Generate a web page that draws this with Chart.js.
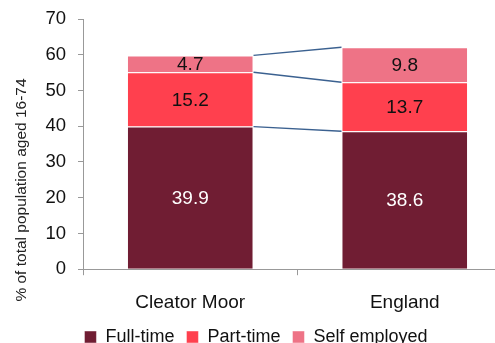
<!DOCTYPE html>
<html>
<head>
<meta charset="utf-8">
<script src="https://cdn.jsdelivr.net/npm/chart.js@4/dist/chart.umd.min.js"></script>
<style>
  html, body { margin: 0; padding: 0; background: #fff; overflow: hidden; }
  #wrap { width: 514px; height: 343px; }
</style>
</head>
<body>
<div id="wrap"><canvas id="chart" width="514" height="343"></canvas></div>
<script>
// 数据
const areas = ['Cleator Moor', 'England'];
const fullTime = [39.9, 38.6];
const partTime = [15.2, 13.7];
const selfEmployed = [4.7, 9.8];
const yTicks = [0, 10, 20, 30, 40, 50, 60, 70];

const FONT = '"Liberation Sans", Arial, sans-serif';

// 柱内数值标签
const valueLabels = {
    id: 'valueLabels',
    afterDatasetsDraw(chart) {
        const ctx = chart.ctx;
        ctx.save();
        ctx.font = '19px ' + FONT;
        ctx.textAlign = 'center';
        ctx.textBaseline = 'middle';
        chart.data.datasets.forEach((ds, i) => {
            const meta = chart.getDatasetMeta(i);
            meta.data.forEach((bar, j) => {
                ctx.fillStyle = i === 0 ? '#ffffff' : '#111111';
                ctx.fillText(ds.data[j].toFixed(1), bar.x, (bar.y + bar.base) / 2 + 1);
            });
        });
        ctx.restore();
    }
};

// 系列连接线
const seriesLines = {
    id: 'seriesLines',
    afterDatasetsDraw(chart) {
        const ctx = chart.ctx;
        ctx.save();
        ctx.strokeStyle = '#3b6190';
        ctx.lineWidth = 1.3;
        chart.data.datasets.forEach((ds, i) => {
            const meta = chart.getDatasetMeta(i);
            const a = meta.data[0], b = meta.data[1];
            ctx.beginPath();
            ctx.moveTo(a.x + a.width / 2, a.y);
            ctx.lineTo(b.x - b.width / 2, b.y);
            ctx.stroke();
        });
        ctx.restore();
    }
};

// 纵轴标题
const yTitle = {
    id: 'yTitle',
    afterDraw(chart) {
        const ctx = chart.ctx;
        ctx.save();
        ctx.translate(22, 190);
        ctx.rotate(-Math.PI / 2);
        ctx.font = '15.5px ' + FONT;
        ctx.fillStyle = '#222';
        ctx.textAlign = 'center';
        ctx.textBaseline = 'middle';
        ctx.fillText('% of total population aged 16-74', 0, 0);
        ctx.restore();
    }
};

new Chart(document.getElementById('chart'), {
    type: 'bar',
    data: {
        labels: areas,
        datasets: [
            { label: 'Full-time', data: fullTime, backgroundColor: '#701d33' },
            { label: 'Part-time', data: partTime, backgroundColor: '#ff404e' },
            { label: 'Self employed', data: selfEmployed, backgroundColor: '#ee7386' }
        ].map(d => Object.assign(d, {
            borderColor: 'rgba(255,255,255,0.45)',
            borderWidth: 1,
            barPercentage: 0.59,
            categoryPercentage: 1
        }))
    },
    options: {
        responsive: false,
        animation: false,
        layout: { padding: { top: 19, right: 2, left: 0, bottom: -13 } },
        scales: {
            x: {
                stacked: true,
                afterFit(scale) { scale.height = scale.height - 14; },
                grid: { offset: true, drawOnChartArea: false, tickLength: 6, color: '#999' },
                border: { color: '#999' },
                ticks: { font: { family: FONT, size: 19 }, color: '#111', padding: 16 }
            },
            y: {
                stacked: true,
                min: 0,
                max: 70,
                afterBuildTicks(scale) {
                    scale.ticks = yTicks.map(v => ({ value: v }));
                },
                afterFit(scale) {
                    scale.width = 83;
                    scale.paddingTop = 0;
                },
                grid: { drawOnChartArea: false, tickLength: 5, color: '#999' },
                border: { color: '#999' },
                ticks: { font: { family: FONT, size: 18.5 }, color: '#111', padding: 12 }
            }
        },
        plugins: {
            legend: {
                position: 'bottom',
                labels: {
                    boxWidth: 12,
                    boxHeight: 12,
                    font: { family: FONT, size: 18 },
                    color: '#111',
                    padding: 12
                }
            },
            tooltip: { enabled: false }
        }
    },
    plugins: [valueLabels, seriesLines, yTitle]
});
</script>
</body>
</html>
